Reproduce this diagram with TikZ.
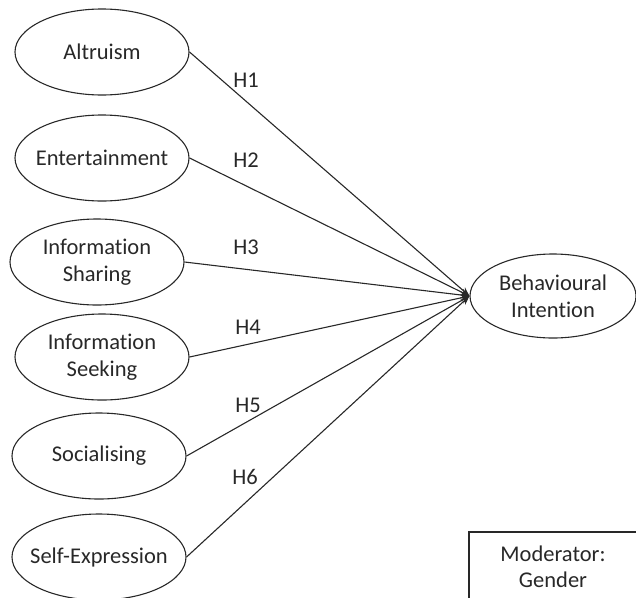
\documentclass[tikz,border=0pt]{standalone}
\usepackage{fontspec}
\setmainfont[Ligatures={NoCommon}]{Carlito}
\usepackage{xcolor}
\usepackage{tikz}
\usetikzlibrary{shapes.geometric, arrows.meta, positioning}
\definecolor{inkgrey}{RGB}{40,40,40}

\begin{document}
\begin{tikzpicture}[
  x=1pt, y=-1pt,
  cons/.style={ellipse, draw=inkgrey, line width=1.1pt, inner ysep=0pt,
    inner xsep=-20pt, minimum width=174pt, minimum height=86pt,
    align=center, text=inkgrey, font=\fontsize{22.5}{27}\selectfont},
  hyp/.style={text=inkgrey, font=\fontsize{22.5}{27}\selectfont},
  modbox/.style={rectangle, draw=inkgrey, line width=1.1pt, align=center,
    minimum width=168pt, minimum height=70pt,
    text=inkgrey, font=\fontsize{22.5}{26}\selectfont},
  ar/.style={-{Stealth[length=9pt,width=7pt]}, line width=1.1pt, inkgrey}
]
  \useasboundingbox (0,0) rectangle (636,597);
  \clip (0,0) rectangle (636,597);
  \node[cons] (alt)  at (102,52)  {Altruism};
  \node[cons] (ent)  at (102,158) {Entertainment};
  \node[cons] (ish)  at (97,262)  {Information\\Sharing};
  \node[cons] (isk)  at (102,357) {Information\\Seeking};
  \node[cons] (soc)  at (99,456)  {Socialising};
  \node[cons] (self) at (99,557)  {Self-Expression};
  \node[cons, minimum width=166pt, minimum height=84pt] (bi) at (553,296)
    {Behavioural\\Intention};
  \node[modbox] (mod) at (553,567) {Moderator:\\Gender};
  % Hypotheses
  \node[hyp] (h1) at (246,80)  {H1};
  \node[hyp] (h2) at (246,160) {H2};
  \node[hyp] (h3) at (246,247) {H3};
  \node[hyp] (h4) at (248,327) {H4};
  \node[hyp] (h5) at (248,405) {H5};
  \node[hyp] (h6) at (245,477) {H6};
  % Arrows
  \draw[ar] (alt.east)  -- (bi.west);
  \draw[ar] (ent.east)  -- (bi.west);
  \draw[ar] (ish.east)  -- (bi.west);
  \draw[ar] (isk.east)  -- (bi.west);
  \draw[ar] (soc.east)  -- (bi.west);
  \draw[ar] (self.east) -- (bi.west);
\end{tikzpicture}
\end{document}
